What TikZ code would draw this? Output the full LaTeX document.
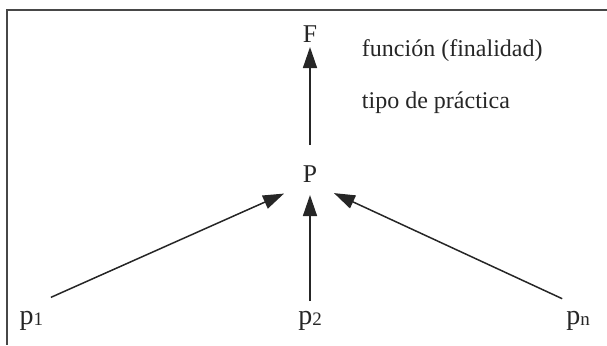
\documentclass[tikz,border=0pt]{standalone}
\usepackage{fontspec}
\setmainfont{Liberation Serif}
\usetikzlibrary{arrows.meta}
\definecolor{ink}{HTML}{262626}
\tikzset{
  caplab/.style={inner sep=0pt, outer sep=0pt, anchor=base, text height=8pt, text depth=0pt,
              font=\fontsize{12.8}{14}\selectfont, text=ink},
  plab/.style={inner sep=0pt, outer sep=0pt, anchor=base, text height=9pt, text depth=0pt,
              font=\fontsize{14}{16}\selectfont, text=ink},
  notelab/.style={inner sep=0pt, outer sep=0pt, anchor=base west, font=\fontsize{12}{14}\selectfont, text=ink},
  arr/.style={draw=ink, line width=0.75pt, -{Triangle[length=10.5pt, width=7pt]}},
  framelines/.style={draw=ink!85, line width=1.1pt}
}
\newcommand{\psub}[1]{p\raisebox{-0.6pt}{\fontsize{9.5}{9.5}\selectfont #1}}
\begin{document}
\begin{tikzpicture}[x=0.5pt, y=-0.5pt]
  \useasboundingbox (0,0) rectangle (607,345);
  % frame (top and left)
  \coordinate (ftl) at (7,10);
  \coordinate (ftr) at (607,10);
  \coordinate (fbl) at (7,345);
  \draw[framelines] (ftr) -- (ftl) -- (fbl);
  % labels
  \node[caplab] (F) at (310,42) {F};
  \node[caplab] (P) at (310,182) {P};
  \node[plab] (p1) at (31.5,324) {\psub{1}};
  \node[plab] (p2) at (310,324) {\psub{2}};
  \node[plab] (pn) at (578,324) {\psub{n}};
  \node[notelab] (fun) at (362,56) {función (finalidad)};
  \node[notelab] (tipo) at (362,108) {tipo de práctica};
  % connectors
  \draw[arr, shorten <=10.6pt, shorten >=14.2pt] (p1.north) -- (P.south);
  \draw[arr, shorten <=2.5pt, shorten >=6.5pt] (p2.north) -- (P.south);
  \draw[arr, shorten <=8.7pt, shorten >=13.2pt] (pn.north) -- (P.south);
  \draw[arr, shorten <=10.5pt, shorten >=2.5pt] (P.north) -- (F.south);
\end{tikzpicture}
\end{document}
